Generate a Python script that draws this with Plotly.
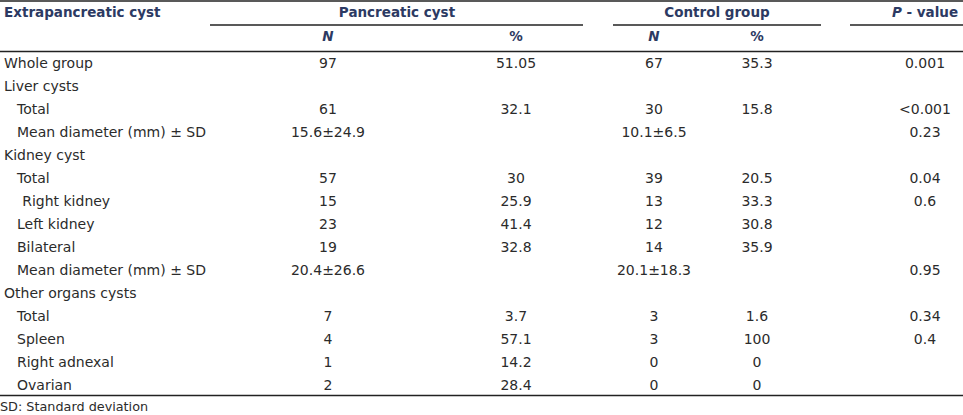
import plotly.graph_objects as go

# ---------------- data ----------------
row_labels = ["Whole group", "Liver cysts", "Total", "Mean diameter (mm) \u00b1 SD",
              "Kidney cyst", "Total", "Right kidney", "Left kidney", "Bilateral",
              "Mean diameter (mm) \u00b1 SD", "Other organs cysts", "Total", "Spleen",
              "Right adnexal", "Ovarian"]
row_indent = [0, 0, 1, 1, 0, 1, 1.4, 1, 1, 1, 0, 1, 1, 1, 1]
pan_n = ["97", "", "61", "15.6\u00b124.9", "", "57", "15", "23", "19", "20.4\u00b126.6",
         "", "7", "4", "1", "2"]
pan_pct = ["51.05", "", "32.1", "", "", "30", "25.9", "41.4", "32.8", "", "",
           "3.7", "57.1", "14.2", "28.4"]
ctl_n = ["67", "", "30", "10.1\u00b16.5", "", "39", "13", "12", "14", "20.1\u00b118.3",
         "", "3", "3", "0", "0"]
ctl_pct = ["35.3", "", "15.8", "", "", "20.5", "33.3", "30.8", "35.9", "", "",
           "1.6", "100", "0", "0"]
p_value = ["0.001", "", "<0.001", "0.23", "", "0.04", "0.6", "", "", "0.95", "",
           "0.34", "0.4", "", ""]
group_headers = ["Pancreatic cyst", "Control group", "<i>P</i> - value"]
sub_headers = ["<i>N</i>", "%", "<i>N</i>", "%"]
first_header = "Extrapancreatic cyst"
footnote = "SD: Standard deviation"

# ---------------- layout helpers ----------------
W, H = 963, 415
ROW0, ROWH = 64, 23.0
ys = [ROW0 + ROWH * i for i in range(len(row_labels))]
BODY_FONT = dict(family="DejaVu Sans", size=14, color="#2b2b2b")
HEAD_FONT = dict(family="DejaVu Sans", size=13.5, color="#2c3a63")

col_x = {"pan_n": 328, "pan_pct": 516, "ctl_n": 654, "ctl_pct": 757, "p": 925}

fig = go.Figure()

# row labels
fig.add_trace(go.Scatter(
    x=[4 + 13 * ind for ind in row_indent], y=ys, text=row_labels,
    mode="text", textposition="middle right", textfont=BODY_FONT,
    hoverinfo="skip", showlegend=False))

for key, vals in [("pan_n", pan_n), ("pan_pct", pan_pct), ("ctl_n", ctl_n),
                  ("ctl_pct", ctl_pct), ("p", p_value)]:
    fig.add_trace(go.Scatter(
        x=[col_x[key]] * len(vals), y=ys, text=vals,
        mode="text", textposition="middle center", textfont=BODY_FONT,
        hoverinfo="skip", showlegend=False))

# header row 1
fig.add_trace(go.Scatter(
    x=[4], y=[14], text=["<b>" + first_header + "</b>"], mode="text",
    textposition="middle right", textfont=HEAD_FONT, hoverinfo="skip", showlegend=False))
fig.add_trace(go.Scatter(
    x=[397, 717, 925], y=[14, 14, 14], text=["<b>" + t + "</b>" for t in group_headers],
    mode="text", textposition="middle center", textfont=HEAD_FONT,
    hoverinfo="skip", showlegend=False))
# header row 2
fig.add_trace(go.Scatter(
    x=[col_x["pan_n"], col_x["pan_pct"], col_x["ctl_n"], col_x["ctl_pct"]],
    y=[38] * 4, text=["<b>" + t + "</b>" for t in sub_headers],
    mode="text", textposition="middle center", textfont=HEAD_FONT,
    hoverinfo="skip", showlegend=False))
# footnote
fig.add_trace(go.Scatter(
    x=[0], y=[408], text=[footnote], mode="text", textposition="middle right",
    textfont=dict(family="DejaVu Sans", size=12.8, color="#2b2b2b"),
    hoverinfo="skip", showlegend=False))

line = dict(color="#222222", width=1.3)
shapes = [
    dict(type="line", x0=0, x1=W, y0=1, y1=1, line=line),
    dict(type="line", x0=210, x1=583, y0=25, y1=25, line=line),
    dict(type="line", x0=613, x1=821, y0=25, y1=25, line=line),
    dict(type="line", x0=850, x1=W, y0=25, y1=25, line=line),
    dict(type="line", x0=0, x1=W, y0=51.5, y1=51.5, line=line),
    dict(type="line", x0=0, x1=W, y0=395.5, y1=395.5, line=line),
]
for s in shapes:
    s["xref"] = "x"
    s["yref"] = "y"

fig.update_layout(
    width=W, height=H, margin=dict(l=0, r=0, t=0, b=0),
    paper_bgcolor="white", plot_bgcolor="white", shapes=shapes,
    xaxis=dict(range=[0, W], visible=False, fixedrange=True),
    yaxis=dict(range=[H, 0], visible=False, fixedrange=True),
)
fig.write_html(
    "out.html", config={"displayModeBar": False},
    post_script="document.body.style.margin='0';document.body.style.overflow='hidden';")
